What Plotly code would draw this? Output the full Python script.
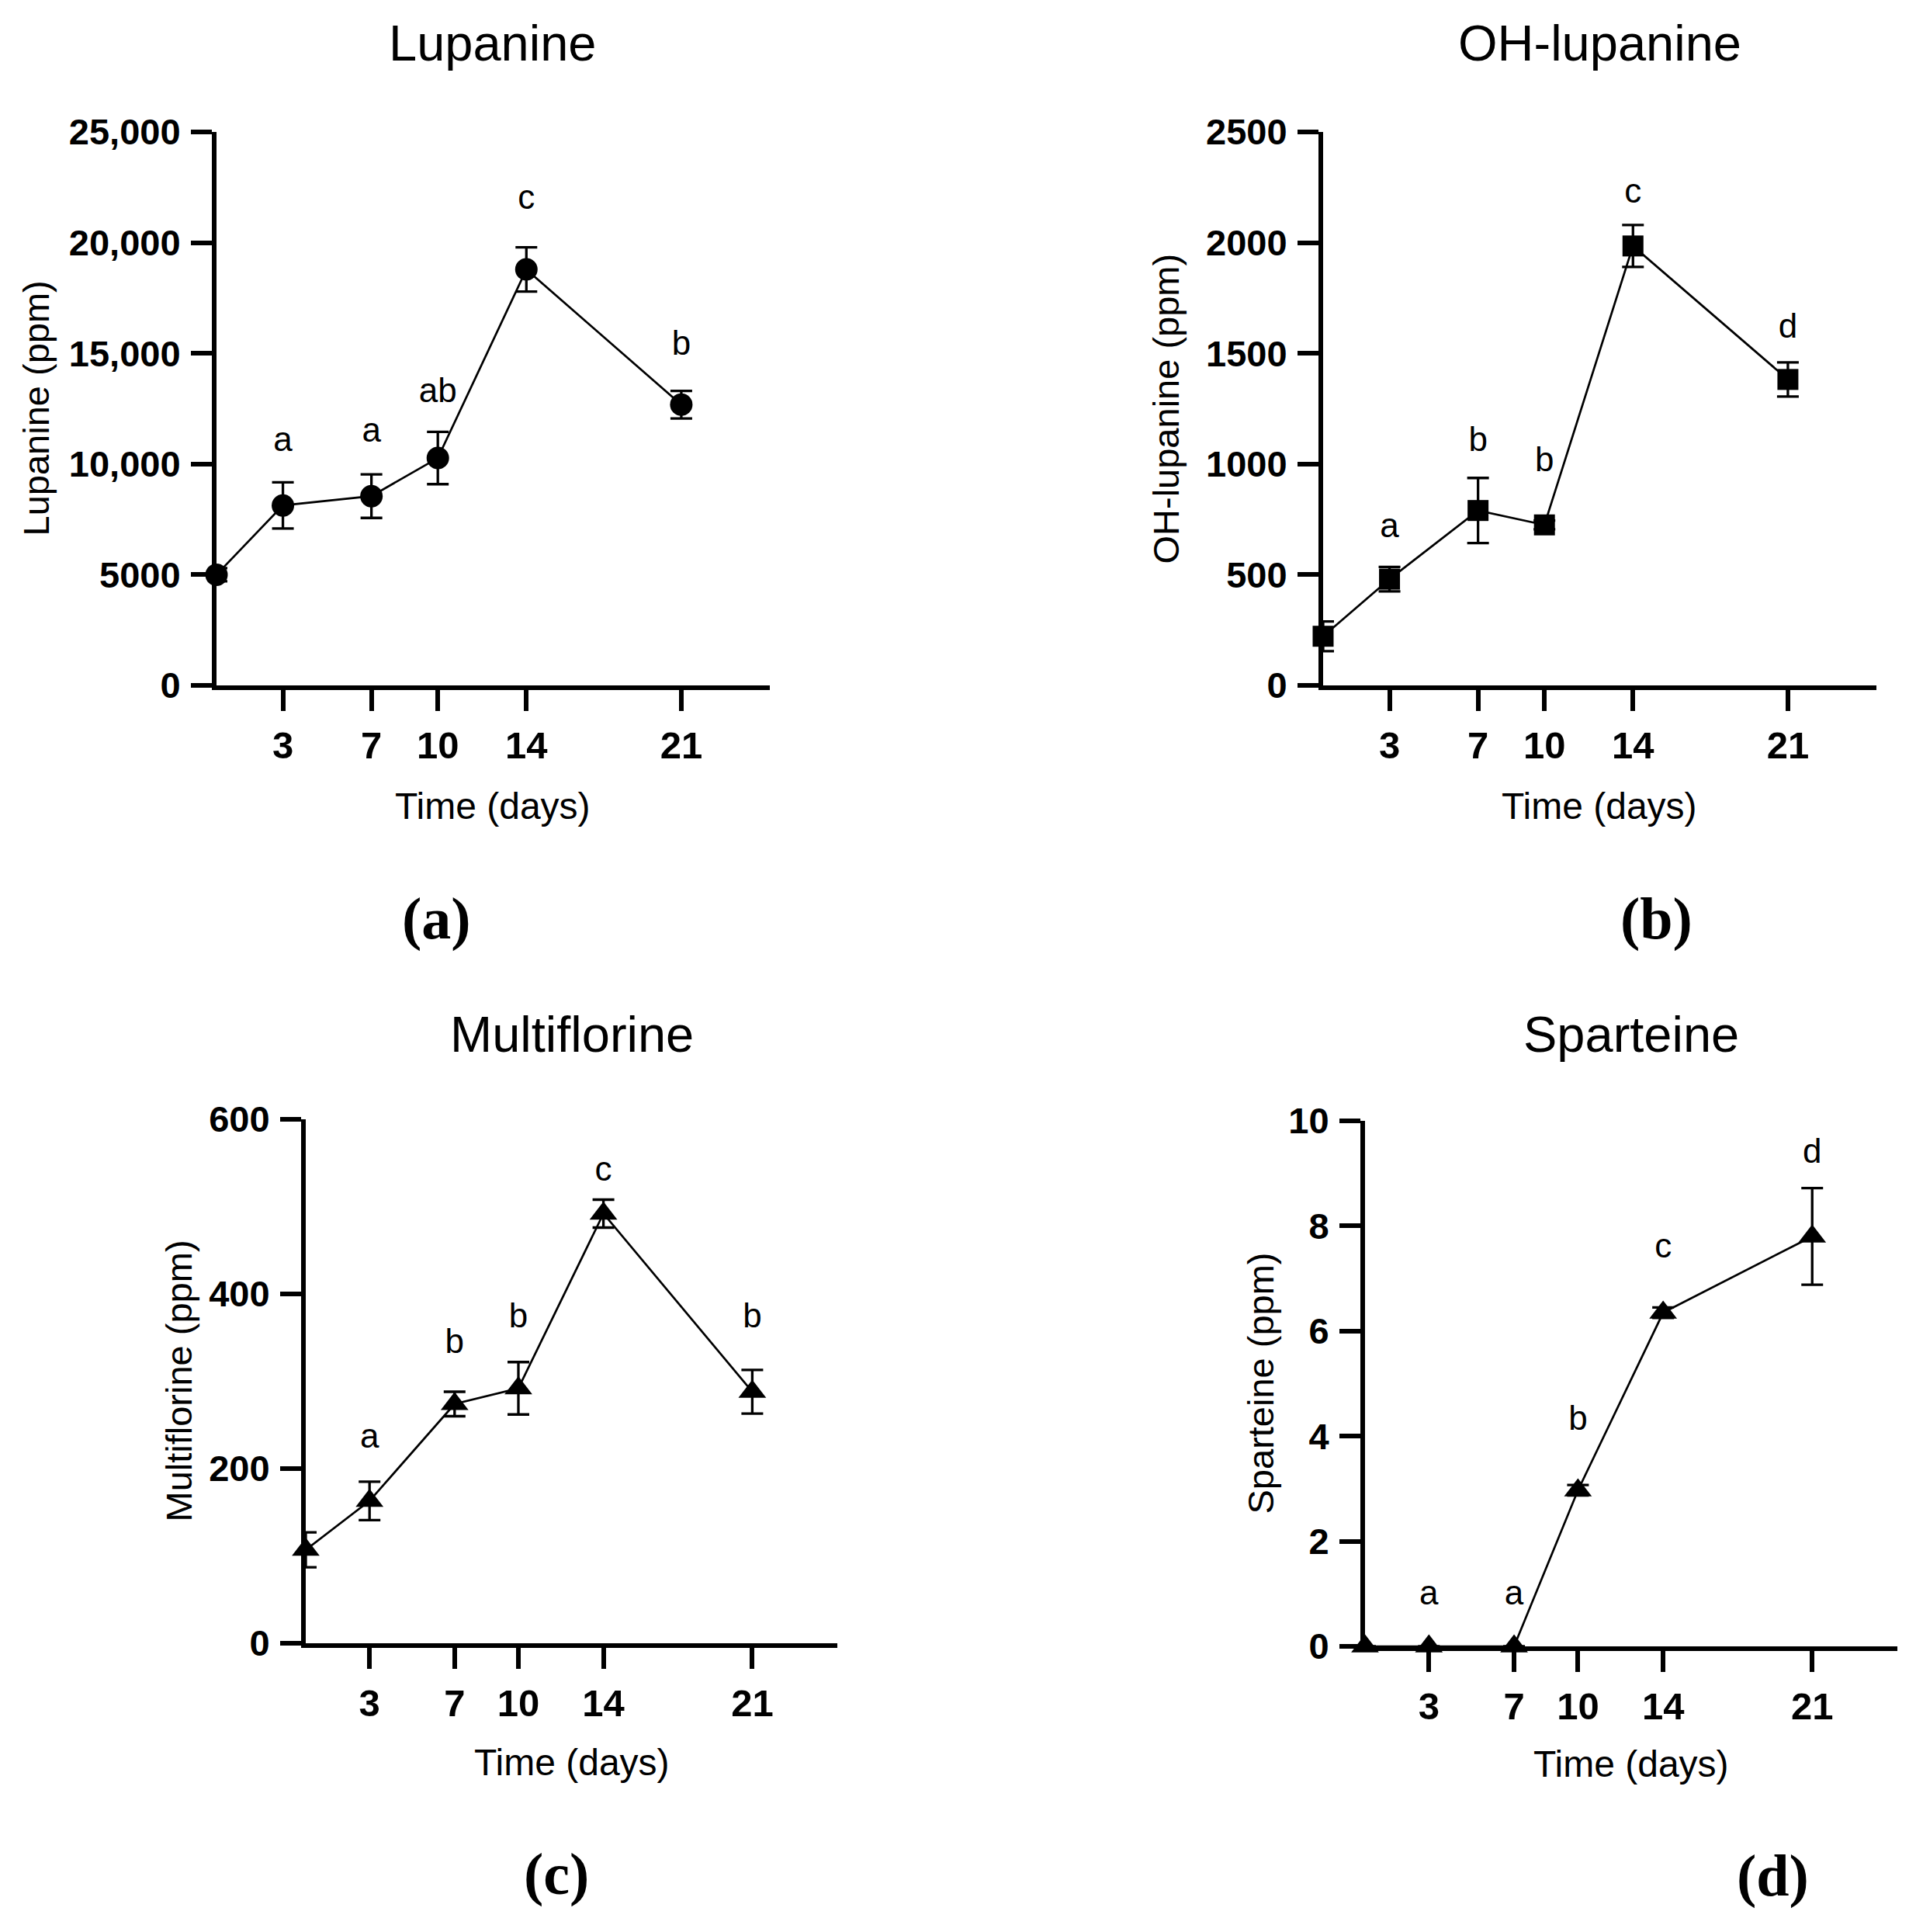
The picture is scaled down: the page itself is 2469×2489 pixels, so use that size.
import plotly.graph_objects as go

# sampling days
days = [0, 3, 7, 10, 14, 21]
day_ticks = [3, 7, 10, 14, 21]

# Lupanine (a)
lupanine = [5000, 8130, 8550, 10270, 18790, 12680]
lupanine_err = [300, 1040, 985, 1180, 1000, 620]
lupanine_letters = ['', 'a', 'a', 'ab', 'c', 'b']
lupanine_letter_y = [0, 10960, 11380, 13180, 21920, 15320]
lupanine_ticks = [0, 5000, 10000, 15000, 20000, 25000]
lupanine_ticktext = ['0', '5000', '10,000', '15,000', '20,000', '25,000']

# OH-lupanine (b)
oh_lupanine = [222, 480, 790, 725, 1985, 1382]
oh_lupanine_err = [67, 55, 147, 20, 95, 77]
oh_lupanine_letters = ['', 'a', 'b', 'b', 'c', 'd']
oh_lupanine_letter_y = [0, 707, 1096, 1007, 2220, 1609]
oh_lupanine_ticks = [0, 500, 1000, 1500, 2000, 2500]
oh_lupanine_ticktext = ['0', '500', '1000', '1500', '2000', '2500']

# Multiflorine (c)
multiflorine = [107, 163, 274, 292, 492, 288]
multiflorine_err = [20, 22, 14, 30, 16, 25]
multiflorine_letters = ['', 'a', 'b', 'b', 'c', 'b']
multiflorine_letter_y = [0, 234, 342, 372, 540, 372]
multiflorine_ticks = [0, 200, 400, 600]
multiflorine_ticktext = ['0', '200', '400', '600']

# Sparteine (d)
sparteine = [0, 0, 0, 2.97, 6.35, 7.8]
sparteine_err = [0, 0, 0, 0.1, 0.1, 0.92]
sparteine_letters = ['', 'a', 'a', 'b', 'c', 'd']
sparteine_letter_y = [0, 0.96, 0.96, 4.29, 7.57, 9.36]
sparteine_ticks = [0, 2, 4, 6, 8, 10]
sparteine_ticktext = ['0', '2', '4', '6', '8', '10']

W, H = 2469, 2489
TICK_FONT = 'Liberation Sans, Arial, sans-serif'
TEXT_FONT = 'Liberation Sans, Arial, sans-serif'
SERIF = 'Liberation Serif, Times New Roman, serif'

panels = [
    # title, y label, values, errors, letters, letter y, marker, size, yticks, ytext,
    # x span (px), y span (px), tag, tag pos, y label x, x label y
    ('Lupanine', 'Lupanine (ppm)', lupanine, lupanine_err, lupanine_letters, lupanine_letter_y,
     'circle', 29, lupanine_ticks, lupanine_ticktext, (279, 992), (883, 170), '(a)', (562, 1183), 46, 1038),
    ('OH-lupanine', 'OH-lupanine (ppm)', oh_lupanine, oh_lupanine_err, oh_lupanine_letters, oh_lupanine_letter_y,
     'square', 27, oh_lupanine_ticks, oh_lupanine_ticktext, (1705, 2418), (883, 170), '(b)', (2134, 1183), 1502, 1038),
    ('Multiflorine', 'Multiflorine (ppm)', multiflorine, multiflorine_err, multiflorine_letters, multiflorine_letter_y,
     'triangle-up', 31, multiflorine_ticks, multiflorine_ticktext, (394, 1079), (2117, 1442), '(c)', (717, 2414), 230, 2270),
    ('Sparteine', 'Sparteine (ppm)', sparteine, sparteine_err, sparteine_letters, sparteine_letter_y,
     'triangle-up', 31, sparteine_ticks, sparteine_ticktext, (1759, 2445), (2121, 1444), '(d)', (2284, 2416), 1624, 2272),
]

fig = go.Figure()
annotations = []

for i, (title, ylabel, vals, errs, letters, letter_y, symbol, msize, yt, ytt, xd, yd, tag, tagpos, ylab_x, xlab_y) in enumerate(panels):
    n = '' if i == 0 else str(i + 1)
    xa, ya = 'x' + n, 'y' + n

    fig.add_trace(go.Scatter(
        x=days, y=vals, xaxis=xa, yaxis=ya, mode='lines+markers',
        line=dict(color='black', width=2.7),
        marker=dict(symbol=symbol, size=msize, color='black'),
        error_y=dict(type='data', array=errs, visible=True, color='black', thickness=3.3, width=14),
        cliponaxis=False, showlegend=False, hoverinfo='skip'))

    fig.add_trace(go.Scatter(
        x=days, y=letter_y, xaxis=xa, yaxis=ya, mode='text', text=letters,
        textposition='middle center', textfont=dict(family=TEXT_FONT, size=44, color='black'),
        cliponaxis=False, showlegend=False, hoverinfo='skip'))

    x0, x1 = xd[0] / W, xd[1] / W
    y0, y1 = 1 - yd[0] / H, 1 - yd[1] / H
    axis_common = dict(showline=True, linecolor='black', linewidth=6, ticks='outside',
                       ticklen=27, tickwidth=6, tickcolor='black', showgrid=False,
                       zeroline=False, layer='below traces', automargin=False)
    fig.layout['xaxis' + n] = dict(
        domain=[x0, x1], range=[0, 25], anchor=ya, tickvals=day_ticks,
        ticktext=[str(d) for d in day_ticks], ticklabelstandoff=2,
        tickfont=dict(family=TICK_FONT, size=49, color='black', weight='bold'), **axis_common)
    fig.layout['yaxis' + n] = dict(
        domain=[y0, y1], range=[0, yt[-1]], anchor=xa, tickvals=yt, ticktext=ytt,
        ticklabelstandoff=4,
        tickfont=dict(family=TICK_FONT, size=47, color='black', weight='bold'), **axis_common)

    xc = (x0 + x1) / 2
    title_y = 55 if i < 2 else 1333
    annotations.append(dict(text=title, x=xc, y=1 - title_y / H, xref='paper', yref='paper',
                            showarrow=False, xanchor='center', yanchor='middle',
                            font=dict(family=TEXT_FONT, size=65, color='black')))
    annotations.append(dict(text='Time (days)', x=xc, y=1 - xlab_y / H, xref='paper', yref='paper',
                            showarrow=False, xanchor='center', yanchor='middle',
                            font=dict(family=TEXT_FONT, size=48, color='black')))
    annotations.append(dict(text=ylabel, x=ylab_x / W, y=(y0 + y1) / 2, xref='paper', yref='paper',
                            showarrow=False, xanchor='center', yanchor='middle', textangle=-90,
                            font=dict(family=TEXT_FONT, size=47, color='black')))
    annotations.append(dict(text='<b>' + tag + '</b>', x=tagpos[0] / W, y=1 - tagpos[1] / H,
                            xref='paper', yref='paper', showarrow=False,
                            xanchor='center', yanchor='middle',
                            font=dict(family=SERIF, size=76, color='black')))

fig.update_layout(width=W, height=H, margin=dict(l=0, r=0, t=0, b=0),
                  paper_bgcolor='white', plot_bgcolor='white', annotations=annotations)

# drop the default page margin so the figure sits at the window origin
fig.write_html("out.html", config={'displayModeBar': False},
               post_script="document.body.style.margin='0px';")
